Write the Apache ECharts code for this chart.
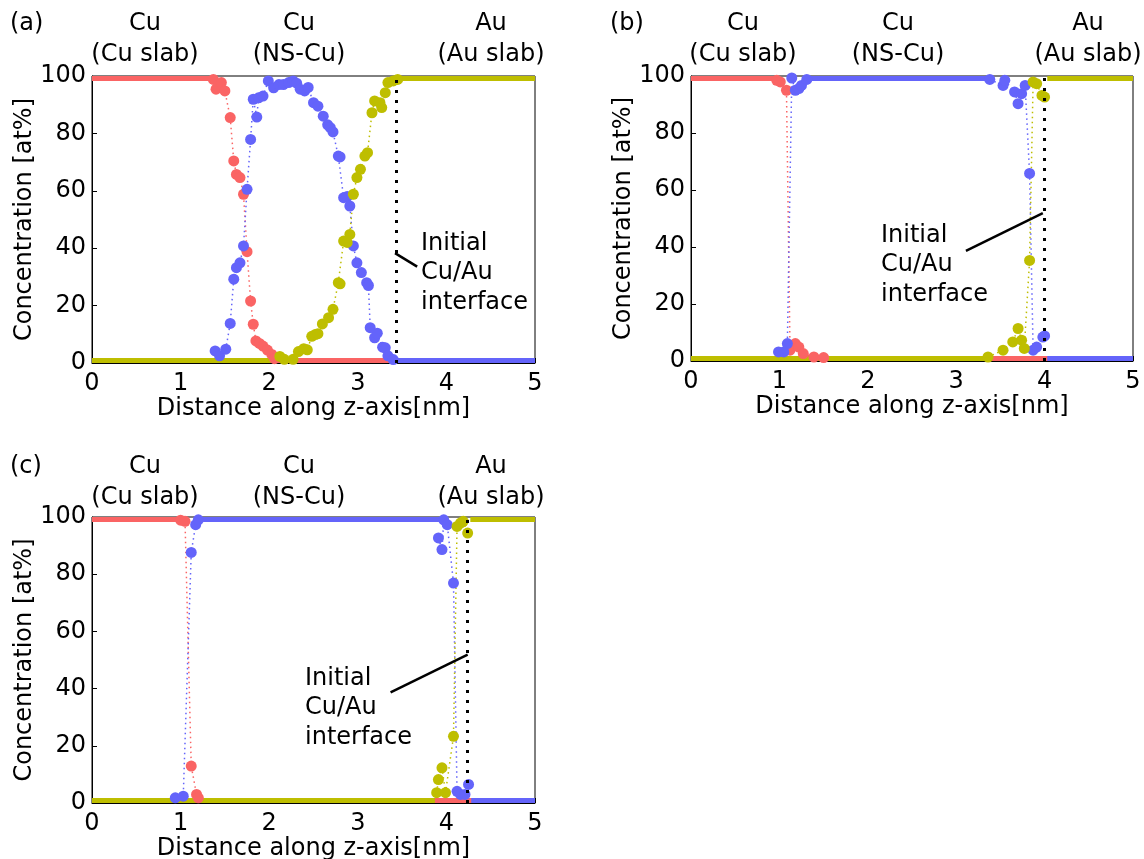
<!DOCTYPE html>
<html>
<head>
<meta charset="utf-8">
<script src="https://cdn.jsdelivr.net/npm/echarts@6.0.0/dist/echarts.min.js"></script>
<style>
html, body { margin: 0; padding: 0; background: #fff; }
#main { width: 1144px; height: 859px; }
</style>
</head>
<body>
<div id="main"></div>
<script>
// colours of the three profiles
var RED = '#fa6464', BLUE = '#6464fa', OLIVE = '#bebe00';
var FONT = 'DejaVu Sans';

var panelTags = ['(a)', '(b)', '(c)'];
var regionTitles = ['Cu\n(Cu slab)', 'Cu\n(NS-Cu)', 'Au\n(Au slab)'];
var noteText = 'Initial\nCu/Au\ninterface';

// ---- panel (a) ----  (points = transition region, flat = plateau segments)
var aRedPts = [[1.37,98.8],[1.40,95.4],[1.46,97.7],[1.50,94.8],[1.56,85.5],[1.60,70.4],[1.63,65.7],[1.67,64.6],[1.71,58.8],[1.75,38.8],[1.79,21.6],[1.82,13.5],[1.85,7.7],[1.89,6.8],[1.93,5.9],[1.98,4.5],[2.03,3.0],[2.06,1.5]];
var aRedFlat = [[[0,99.1],[1.33,99.1]], [[2.10,0.9],[5,0.9]]];
var aBluePts = [[1.39,4.2],[1.44,2.5],[1.51,4.8],[1.56,13.8],[1.60,29.2],[1.63,33.2],[1.67,34.9],[1.71,40.8],[1.75,60.5],[1.79,77.9],[1.82,91.9],[1.86,85.7],[1.88,92.4],[1.93,93.0],[1.99,98.3],[2.05,95.9],[2.11,97.0],[2.16,97.0],[2.22,97.7],[2.27,98.3],[2.31,97.5],[2.35,95.4],[2.40,94.8],[2.44,96.0],[2.50,90.7],[2.55,89.5],[2.61,86.0],[2.66,83.0],[2.69,82.0],[2.72,80.5],[2.78,72.1],[2.80,71.8],[2.84,57.6],[2.88,58.0],[2.91,54.7],[2.95,40.8],[2.99,34.9],[3.04,31.5],[3.10,28.0],[3.12,27.0],[3.14,12.3],[3.19,8.8],[3.22,10.4],[3.28,5.5],[3.31,5.3],[3.34,2.5],[3.40,1.2]];
var aBlueFlat = [[[0,0.9],[1.36,0.9]], [[3.44,0.9],[5,0.9]]];
var aAuPts = [[2.12,2.3],[2.17,1.3],[2.27,1.3],[2.33,4.0],[2.39,5.0],[2.43,4.6],[2.48,9.3],[2.52,9.9],[2.55,10.2],[2.60,13.6],[2.67,15.8],[2.72,18.7],[2.78,28.0],[2.80,27.6],[2.84,42.5],[2.88,42.0],[2.91,44.8],[2.95,58.8],[2.99,64.6],[3.03,67.5],[3.08,72.1],[3.11,73.3],[3.16,87.2],[3.19,91.3],[3.25,90.7],[3.27,89.0],[3.31,94.2],[3.34,97.7],[3.40,98.3],[3.45,98.8]];
var aAuFlat = [[[0,0.9],[2.02,0.9]], [[3.48,99.1],[5,99.1]]];
var aInterface = 3.43;
var aLeader = [[3.42,38.3],[3.67,33.6]];

// ---- panel (b) ----
var bRedPts = [[0.97,98.5],[1.01,97.9],[1.08,95.0],[1.12,3.8],[1.18,6.1],[1.22,4.9],[1.27,2.6],[1.39,1.4],[1.50,1.2]];
var bRedFlat = [[[0,99.1],[0.95,99.1]], [[1.55,0.9],[5,0.9]]];
var bBluePts1 = [[0.99,3.2],[1.05,3.2],[1.09,6.1],[1.14,99.3],[1.18,95.0],[1.22,95.6],[1.25,96.7],[1.31,98.8]];
var bBluePts2 = [[3.38,98.8],[3.53,96.7],[3.55,98.5],[3.66,94.4],[3.70,90.3],[3.74,93.8],[3.78,96.7],[3.83,65.8],[3.87,3.8],[3.91,4.9],[3.98,8.4],[4.00,8.8]];
var bBlueFlat = [[[0,0.9],[0.95,0.9]], [[1.35,99.1],[3.35,99.1]], [[4.03,0.9],[5,0.9]]];
var bAuPts = [[3.36,1.4],[3.53,3.8],[3.64,6.7],[3.70,11.4],[3.74,7.3],[3.77,4.4],[3.83,35.3],[3.87,97.9],[3.91,97.3],[3.97,93.2],[4.00,92.6]];
var bAuFlat = [[[0,0.9],[3.33,0.9]], [[4.03,99.1],[5,99.1]]];
var bInterface = 4.0;
var bLeader = [[3.98,51.9],[3.11,38.6]];

// ---- panel (c) ----
var cRedPts = [[1.00,98.9],[1.05,98.5],[1.12,12.9],[1.18,3.0],[1.20,1.8]];
var cRedFlat = [[[0,99.1],[0.97,99.1]], [[1.23,0.9],[5,0.9]]];
var cBluePts1 = [[0.94,1.8],[1.03,2.4],[1.12,87.6],[1.17,97.3],[1.20,99.0]];
var cBluePts2 = [[3.91,92.7],[3.95,88.6],[3.97,99.0],[4.01,97.3],[4.08,76.9],[4.12,4.1],[4.16,3.0],[4.21,3.0],[4.25,6.5]];
var cBlueFlat = [[[0,0.9],[0.92,0.9]], [[1.22,99.1],[3.95,99.1]], [[4.28,0.9],[5,0.9]]];
var cAuPts = [[3.89,3.6],[3.91,8.2],[3.95,12.3],[3.99,3.6],[4.08,23.3],[4.12,96.7],[4.16,97.9],[4.19,98.5],[4.24,94.4]];
var cAuFlat = [[[0,0.9],[3.87,0.9]], [[4.27,99.1],[5,99.1]]];
var cInterface = 4.24;
var cLeader = [[4.24,51.9],[3.37,38.7]];

// layout of the three frames
var grids = [
  { left: 92, top: 76, width: 443, height: 287 },
  { left: 691, top: 76, width: 442, height: 285 },
  { left: 92, top: 517, width: 443, height: 286 }
];

function speciesSeries(gi, color, ptGroups, flats) {
  var out = [];
  flats.forEach(function (seg) {
    out.push({
      type: 'line', xAxisIndex: gi, yAxisIndex: gi, data: seg,
      symbol: 'none', silent: true,
      lineStyle: { color: color, width: 5 }
    });
  });
  ptGroups.forEach(function (pts) {
    out.push({
      type: 'line', xAxisIndex: gi, yAxisIndex: gi, data: pts,
      symbol: 'circle', symbolSize: 11, showAllSymbol: true, silent: true,
      itemStyle: { color: color },
      lineStyle: { color: color, width: 1.5, type: [1.5, 3.5] }
    });
  });
  return out;
}

function markerSeries(gi, xi, leader) {
  return {
    type: 'line', xAxisIndex: gi, yAxisIndex: gi, data: [], silent: true,
    markLine: {
      silent: true, animation: false,
      symbol: ['none', 'none'],
      label: { show: false },
      lineStyle: { color: '#000', width: 2.5, type: 'solid' },
      emphasis: { disabled: true },
      data: [
        { xAxis: xi, lineStyle: { color: '#000', width: 3, type: [3, 7] } },
        [{ coord: leader[0] }, { coord: leader[1] }]
      ]
    }
  };
}

var panels = [
  [[aRedPts], aRedFlat, [aBluePts], aBlueFlat, [aAuPts], aAuFlat, aInterface, aLeader],
  [[bRedPts], bRedFlat, [bBluePts1, bBluePts2], bBlueFlat, [bAuPts], bAuFlat, bInterface, bLeader],
  [[cRedPts], cRedFlat, [cBluePts1, cBluePts2], cBlueFlat, [cAuPts], cAuFlat, cInterface, cLeader]
];

var xAxes = [], yAxes = [], series = [];
panels.forEach(function (p, gi) {
  xAxes.push({
    gridIndex: gi, type: 'value', min: 0, max: 5, interval: 1,
    name: 'Distance along z-axis[nm]', nameLocation: 'middle', nameGap: 34,
    nameTextStyle: { fontFamily: FONT, fontSize: 24, color: '#000' },
    axisLine: { show: true, lineStyle: { color: '#000', width: 1 } },
    axisTick: { show: true, inside: true, length: 5, lineStyle: { color: '#000' } },
    axisLabel: { fontFamily: FONT, fontSize: 24, color: '#000', margin: 9 },
    splitLine: { show: false }
  });
  yAxes.push({
    gridIndex: gi, type: 'value', min: 0, max: 100, interval: 20,
    name: 'Concentration [at%]', nameLocation: 'middle', nameGap: 48,
    nameTextStyle: { fontFamily: FONT, fontSize: 24, color: '#000' },
    axisLine: { show: true, lineStyle: { color: '#000', width: 1 } },
    axisTick: { show: true, inside: true, length: 5, lineStyle: { color: '#000' } },
    axisLabel: { fontFamily: FONT, fontSize: 24, color: '#000', margin: 6 },
    splitLine: { show: false }
  });
  series = series.concat(speciesSeries(gi, RED, p[0], p[1]));
  series = series.concat(speciesSeries(gi, BLUE, p[2], p[3]));
  series = series.concat(speciesSeries(gi, OLIVE, p[4], p[5]));
  series.push(markerSeries(gi, p[6], p[7]));
});

// text annotations
var tagPos = [[10, 24], [610, 24], [10, 467]];
var titleX = [[145, 299, 491], [743, 898, 1088], [145, 299, 491]];
var titleY = [39, 39, 482];
var notePos = [[421, 273], [881, 265], [305, 708]];

var graphics = [];
for (var i = 0; i < 3; i++) {
  graphics.push({
    type: 'text', x: tagPos[i][0], y: tagPos[i][1], silent: true,
    style: { text: panelTags[i], font: '24px ' + FONT, fill: '#000', align: 'left', verticalAlign: 'middle' }
  });
  for (var j = 0; j < 3; j++) {
    graphics.push({
      type: 'text', x: titleX[i][j], y: titleY[i], silent: true,
      style: { text: regionTitles[j], font: '24px ' + FONT, fill: '#000', align: 'center', verticalAlign: 'middle', lineHeight: 31 }
    });
  }
  graphics.push({
    type: 'text', x: notePos[i][0], y: notePos[i][1], silent: true,
    style: { text: noteText, font: '24px ' + FONT, fill: '#000', align: 'left', verticalAlign: 'middle', lineHeight: 29.5 }
  });
}

var chart = echarts.init(document.getElementById('main'), null, { renderer: 'canvas' });
chart.setOption({
  animation: false,
  backgroundColor: '#fff',
  grid: grids.map(function (g) {
    return {
      left: g.left, top: g.top, width: g.width, height: g.height,
      outerBoundsMode: 'none', containLabel: false,
      show: true, borderColor: '#000', borderWidth: 1, backgroundColor: 'transparent'
    };
  }),
  xAxis: xAxes,
  yAxis: yAxes,
  series: series,
  graphic: graphics
});
</script>
</body>
</html>
